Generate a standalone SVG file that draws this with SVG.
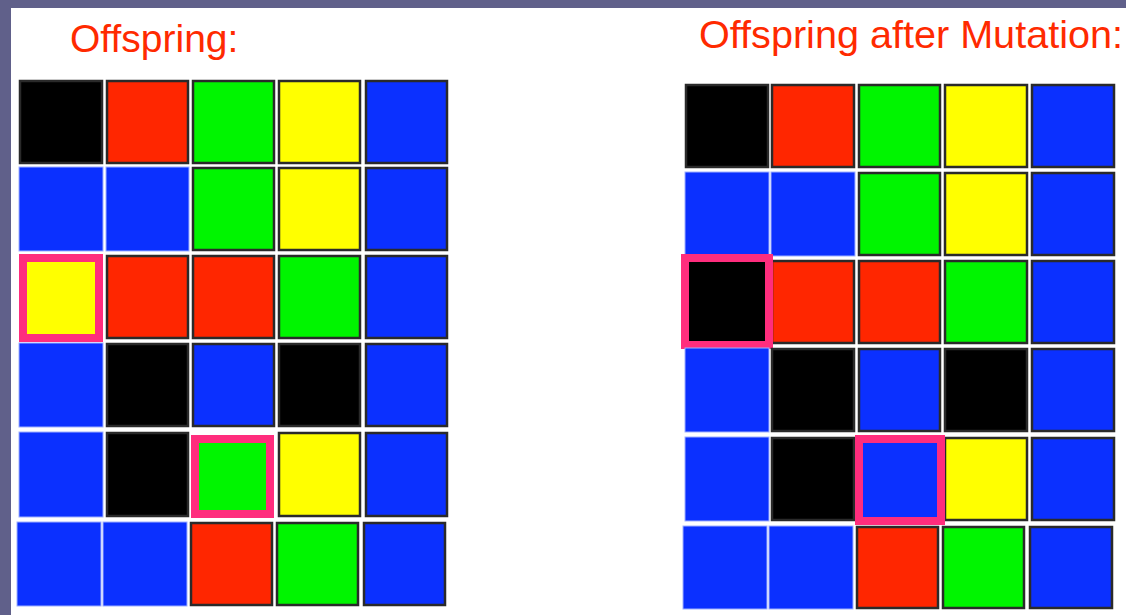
<svg xmlns="http://www.w3.org/2000/svg" width="1126" height="615" viewBox="0 0 1126 615">
  <style>
    .title { font-family: "Liberation Sans", Arial, sans-serif; font-size: 39px; fill: #ff2a00; }
    .c { stroke: #2a2a2a; stroke-width: 2.5; }
    .n { stroke: #9fb0ff; stroke-width: 1; }
    .k { fill: #000000; }
    .r { fill: #ff2600; }
    .g { fill: #00f500; }
    .y { fill: #ffff00; }
    .b { fill: #0b30ff; }
    .hl { stroke: #ff2d7d; stroke-width: 8; }
  </style>
  <rect x="0" y="0" width="1126" height="615" fill="#60608a"/>
  <rect x="11" y="8" width="1115" height="607" fill="#ffffff"/>

  <g id="title-left"><text class="title" x="70" y="52">Offspring:</text></g>
  <g id="title-right"><text class="title" x="699" y="48" textLength="424" lengthAdjust="spacingAndGlyphs">Offspring after Mutation:</text></g>

  <g id="grid-offspring">
    <!-- row 1 -->
    <rect class="c k" x="20" y="81" width="82" height="82"/>
    <rect class="c r" x="107" y="81" width="81" height="82"/>
    <rect class="c g" x="193" y="81" width="81" height="82"/>
    <rect class="c y" x="279" y="81" width="81" height="82"/>
    <rect class="c b" x="366" y="81" width="81" height="82"/>
    <!-- row 2 -->
    <rect class="n b" x="19" y="167" width="84" height="84"/>
    <rect class="n b" x="106" y="167" width="83" height="84"/>
    <rect class="c g" x="193" y="168" width="81" height="82"/>
    <rect class="c y" x="279" y="168" width="81" height="82"/>
    <rect class="c b" x="366" y="168" width="81" height="82"/>
    <!-- row 3 -->
    <rect class="hl y" x="23" y="258" width="76" height="80"/>
    <rect class="c r" x="107" y="256" width="81" height="82"/>
    <rect class="c r" x="193" y="256" width="81" height="82"/>
    <rect class="c g" x="279" y="256" width="81" height="82"/>
    <rect class="c b" x="366" y="256" width="81" height="82"/>
    <!-- row 4 -->
    <rect class="n b" x="19" y="343" width="84" height="84"/>
    <rect class="c k" x="107" y="344" width="81" height="82"/>
    <rect class="c b" x="193" y="344" width="81" height="82"/>
    <rect class="c k" x="279" y="344" width="81" height="82"/>
    <rect class="c b" x="366" y="344" width="81" height="82"/>
    <!-- row 5 -->
    <rect class="n b" x="19" y="432" width="84" height="85"/>
    <rect class="c k" x="107" y="433" width="81" height="83"/>
    <rect class="hl g" x="195" y="439" width="75" height="75"/>
    <rect class="c y" x="279" y="433" width="81" height="83"/>
    <rect class="c b" x="366" y="433" width="81" height="83"/>
    <!-- row 6 -->
    <rect class="n b" x="17" y="522" width="84" height="84"/>
    <rect class="n b" x="103" y="522" width="84" height="84"/>
    <rect class="c r" x="191" y="523" width="81" height="82"/>
    <rect class="c g" x="277" y="523" width="81" height="82"/>
    <rect class="c b" x="364" y="523" width="81" height="82"/>
  </g>

  <g id="grid-mutated">
    <!-- row 1 -->
    <rect class="c k" x="686" y="85" width="82" height="82"/>
    <rect class="c r" x="772" y="85" width="82" height="82"/>
    <rect class="c g" x="859" y="85" width="81" height="82"/>
    <rect class="c y" x="945" y="85" width="82" height="82"/>
    <rect class="c b" x="1032" y="85" width="82" height="82"/>
    <!-- row 2 -->
    <rect class="n b" x="685" y="172" width="84" height="84"/>
    <rect class="n b" x="771" y="172" width="84" height="84"/>
    <rect class="c g" x="859" y="173" width="81" height="82"/>
    <rect class="c y" x="945" y="173" width="82" height="82"/>
    <rect class="c b" x="1032" y="173" width="82" height="82"/>
    <!-- row 3 -->
    <rect class="c r" x="772" y="261" width="82" height="82"/>
    <rect class="hl k" x="685" y="258" width="84" height="87"/>
    <rect class="c r" x="859" y="261" width="81" height="82"/>
    <rect class="c g" x="945" y="261" width="82" height="82"/>
    <rect class="c b" x="1032" y="261" width="82" height="82"/>
    <!-- row 4 -->
    <rect class="n b" x="685" y="348" width="84" height="84"/>
    <rect class="c k" x="772" y="349" width="82" height="82"/>
    <rect class="c b" x="859" y="349" width="81" height="82"/>
    <rect class="c k" x="945" y="349" width="82" height="82"/>
    <rect class="c b" x="1032" y="349" width="82" height="82"/>
    <!-- row 5 -->
    <rect class="n b" x="685" y="437" width="84" height="84"/>
    <rect class="c k" x="772" y="438" width="82" height="82"/>
    <rect class="c y" x="945" y="438" width="82" height="82"/>
    <rect class="c b" x="1032" y="438" width="82" height="82"/>
    <rect class="hl b" x="859" y="439" width="82" height="82"/>
    <!-- row 6 -->
    <rect class="n b" x="683" y="526" width="84" height="83"/>
    <rect class="n b" x="769" y="526" width="84" height="83"/>
    <rect class="c r" x="857" y="527" width="81" height="81"/>
    <rect class="c g" x="943" y="527" width="81" height="81"/>
    <rect class="c b" x="1030" y="527" width="82" height="81"/>
  </g>
</svg>
